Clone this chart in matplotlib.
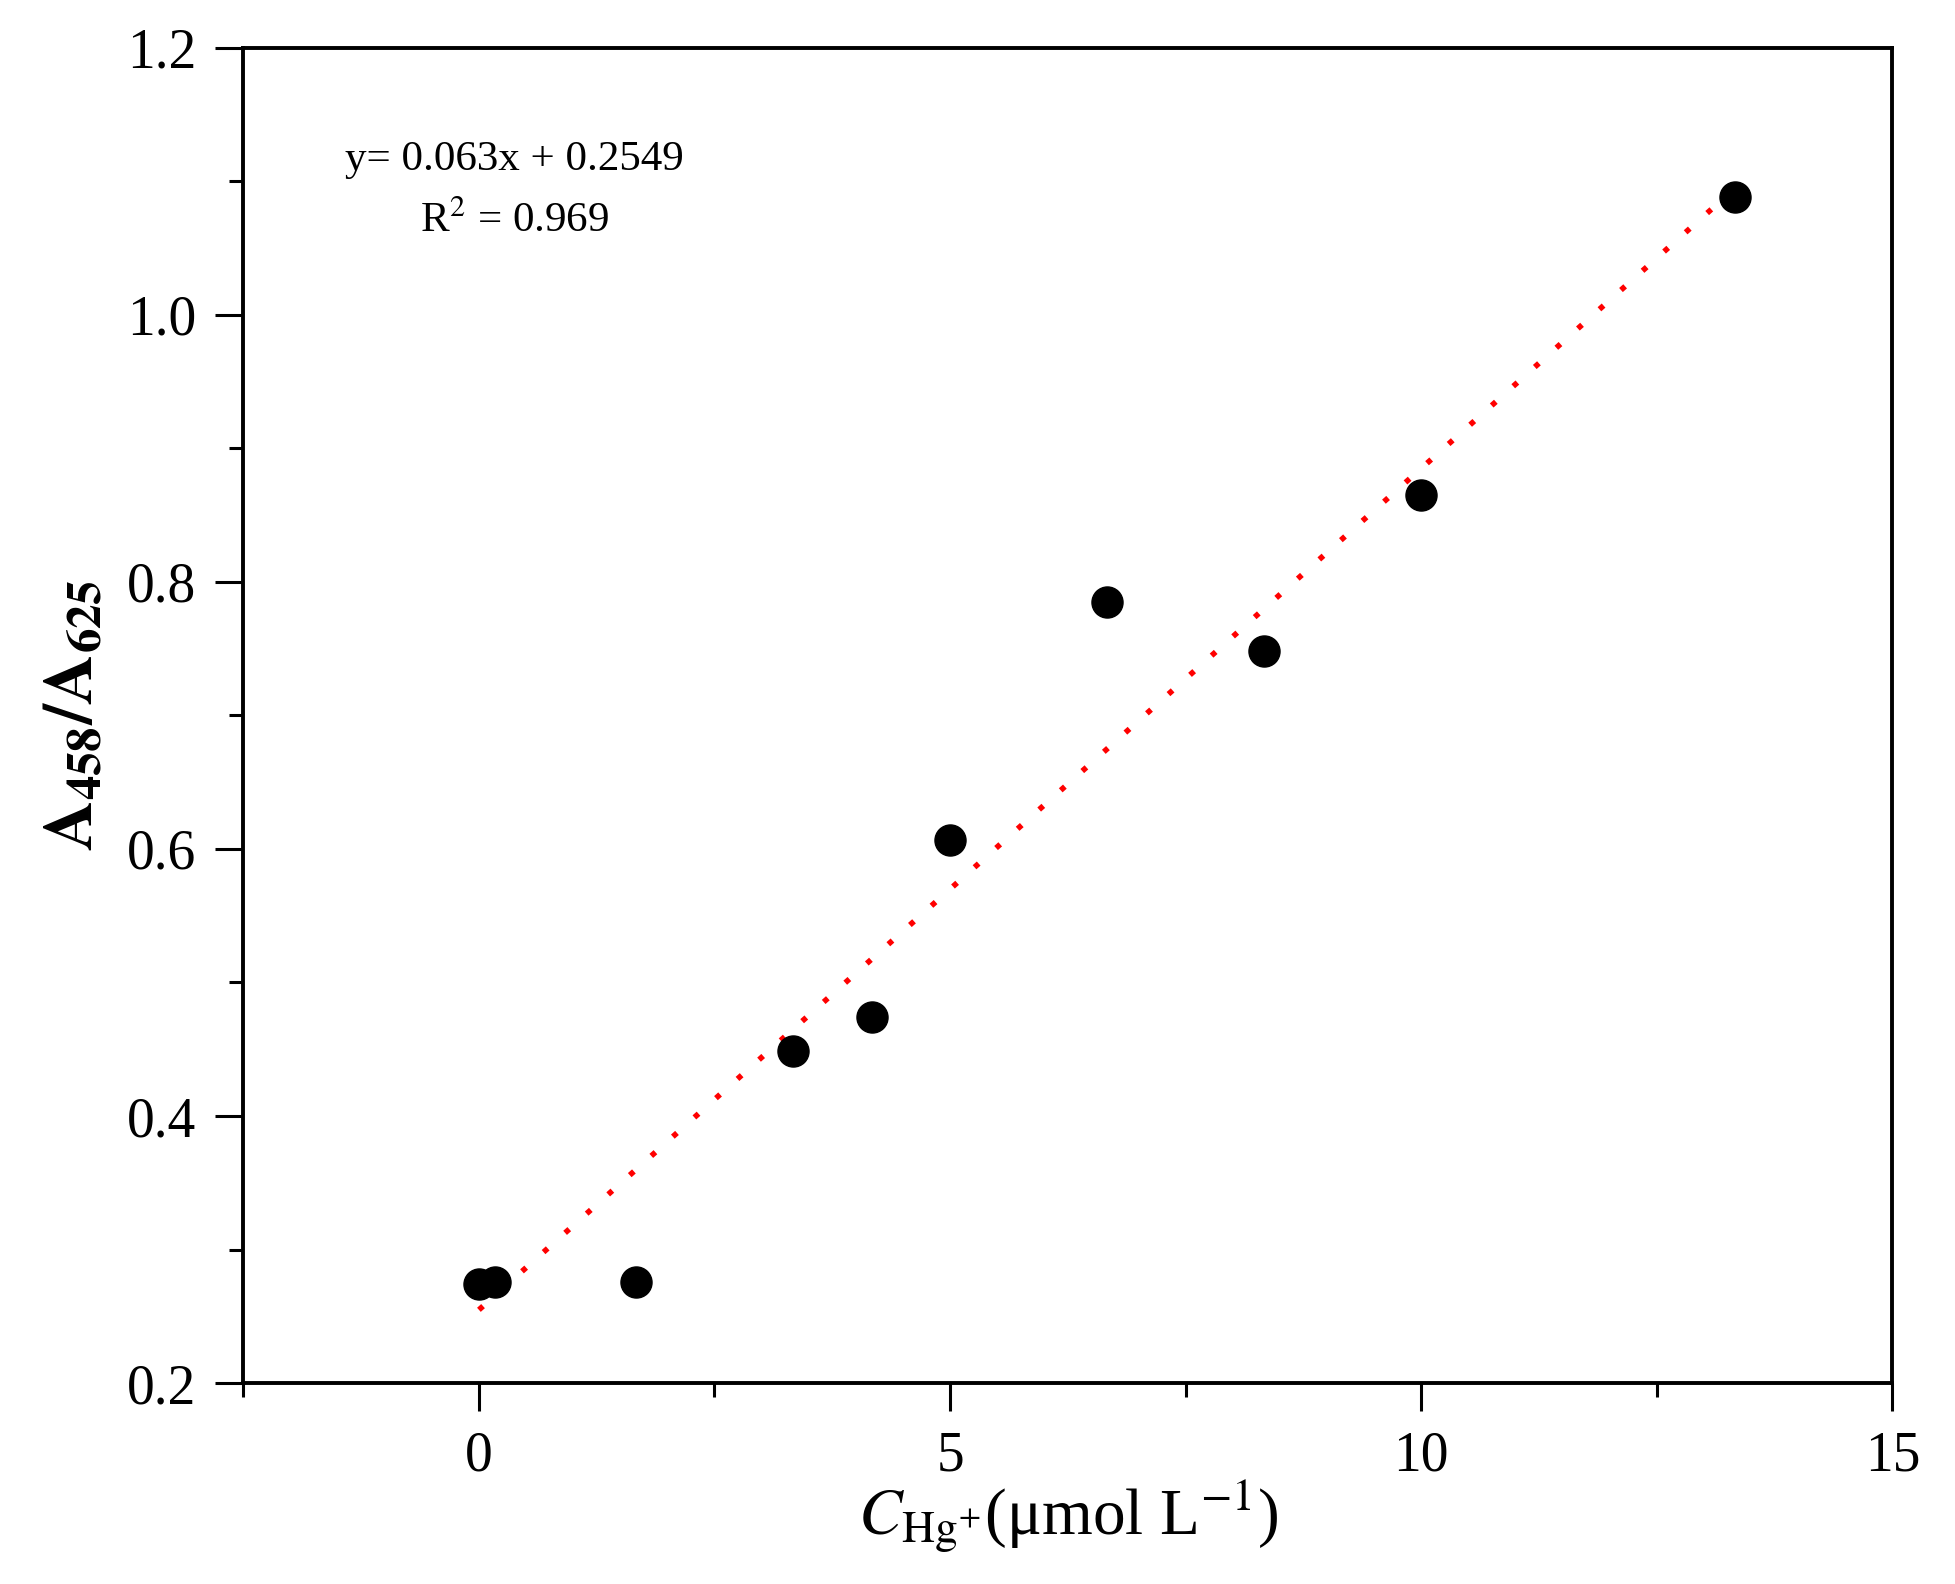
import numpy as np
import matplotlib
matplotlib.use("Agg")
import matplotlib.pyplot as plt
from matplotlib.ticker import MultipleLocator

# measured points (umol/L vs A458/A625)
conc = [0.0, 0.167, 1.667, 3.333, 4.167, 5.0, 6.667, 8.333, 10.0, 13.333]
ratio = [0.274, 0.276, 0.276, 0.449, 0.474, 0.607, 0.785, 0.748, 0.865, 1.088]

# linear fit as printed on the chart
slope = 0.063
intercept = 0.2549
fit_x = [0.0, 13.333]

plt.rcParams['font.family'] = ['Liberation Serif', 'DejaVu Serif']
plt.rcParams['mathtext.fontset'] = 'stix'

fig = plt.figure(figsize=(19.56, 15.84), dpi=100)
ax = fig.add_axes([0.1244, 0.1268, 0.8431, 0.8432])

fx = np.array(fit_x)
ax.plot(fx, slope * fx + intercept, color='red', lw=4,
        linestyle=(0, (1, 4.2)), zorder=2)
ax.scatter(conc, ratio, s=500, color='black', zorder=3)

ax.set_xlim(-2.5, 15)
ax.set_ylim(0.2, 1.2)
ax.xaxis.set_major_locator(MultipleLocator(5))
ax.xaxis.set_minor_locator(MultipleLocator(2.5))
ax.yaxis.set_major_locator(MultipleLocator(0.2))
ax.yaxis.set_minor_locator(MultipleLocator(0.1))
ax.yaxis.set_major_formatter(plt.FuncFormatter(lambda v, p: f"{v:.1f}"))

for s in ax.spines.values():
    s.set_linewidth(2.8)
ax.tick_params(which='major', direction='out', length=20, width=2.2,
               labelsize=40, pad=14)
ax.tick_params(which='minor', direction='out', length=10, width=2.2)

ax.set_xlabel(r'$C_{\mathrm{Hg}^{+}}$(μmol L$^{-1}$)', fontsize=47, labelpad=-3)
ax.set_ylabel(r'$\mathbf{A_{458}/A_{625}}$', fontsize=50, labelpad=14)

ax.text(0.38, 1.116, 'y= 0.063x + 0.2549', fontsize=31, ha='center', va='center')
ax.text(0.38, 1.070, r'R$^2$ = 0.969', fontsize=31, ha='center', va='center')

fig.savefig('out.png', dpi=100)
